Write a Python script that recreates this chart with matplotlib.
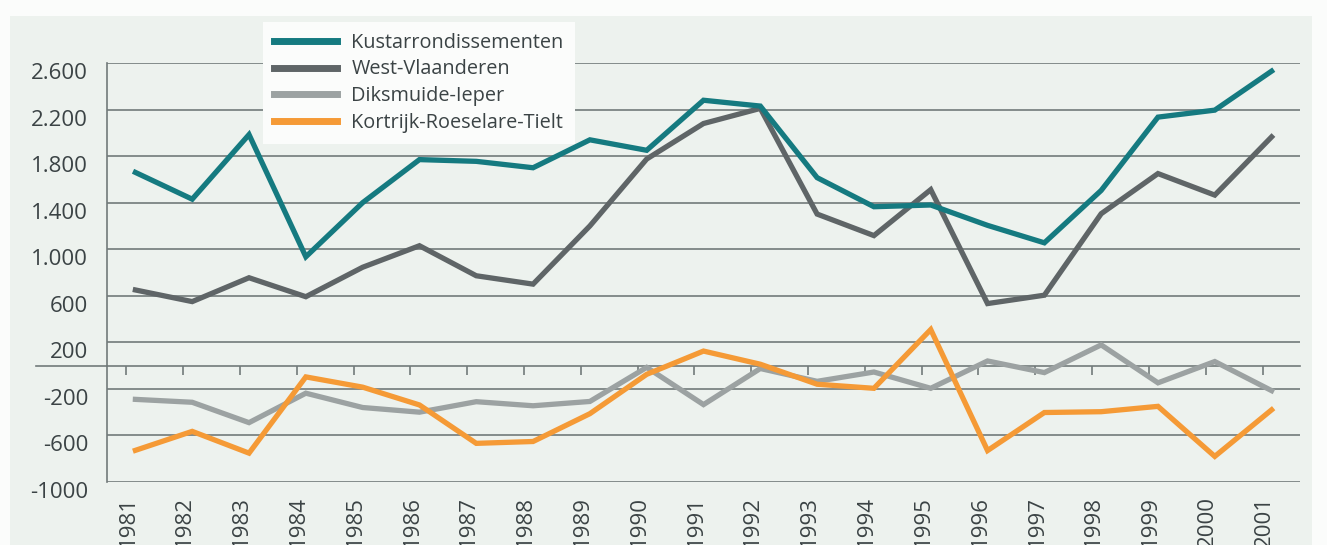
import matplotlib
matplotlib.use("Agg")
import matplotlib.pyplot as plt
from matplotlib.transforms import ScaledTranslation, blended_transform_factory
from matplotlib.lines import Line2D
from matplotlib.patches import Rectangle

years = list(range(1981, 2002))
year_labels = [str(y) for y in years]

kust = [1660, 1430, 1985, 935, 1400, 1770, 1755, 1700, 1940, 1850, 2280,
        2230, 1615, 1365, 1380, 1205, 1055, 1505, 2135, 2195, 2530]
westvl = [650, 550, 755, 592, 845, 1030, 772, 700, 1200, 1775, 2080,
          2210, 1302, 1117, 1512, 533, 605, 1305, 1650, 1465, 1965]
diks = [-290, -315, -490, -237, -360, -400, -310, -345, -308, -15, -335,
        -25, -135, -55, -195, 40, -60, 178, -148, 35, -215]
kort = [-728, -565, -752, -97, -185, -338, -668, -652, -413, -75, 125,
        12, -160, -195, 310, -730, -403, -396, -350, -780, -380]

series_names = ["Kustarrondissementen", "West-Vlaanderen", "Diksmuide-Ieper",
                "Kortrijk-Roeselare-Tielt"]
yticks = [2600, 2200, 1800, 1400, 1000, 600, 200, -200, -600, -1000]
ytick_labels = ["2.600", "2.200", "1.800", "1.400", "1.000", "600", "200",
                "-200", "-600", "-1000"]

C_TEAL = "#157a80"
C_DGREY = "#5f6567"
C_LGREY = "#9ca2a2"
C_ORANGE = "#f59a36"
C_GRID = "#727a7a"
C_TEXT = "#3b4345"
C_BG = "#edf2ee"

plt.rcParams['font.family'] = ['Open Sans', 'DejaVu Sans']

W, H = 1327, 545
fig = plt.figure(figsize=(W / 100, H / 100), dpi=100)
fig.patch.set_facecolor("#fbfcfb")
bg = fig.add_axes([0, 0, 1, 1], zorder=-10)
bg.set_axis_off()
bg.set_xlim(0, 1)
bg.set_ylim(0, 1)
bg.add_patch(Rectangle((10 / W, 0), 1302 / W, 1 - 16 / H, facecolor=C_BG,
                       edgecolor="none"))

ax_l, ax_r, ax_t, ax_b = 107, 1300, 63, 482
ax = fig.add_axes([ax_l / W, 1 - ax_b / H, (ax_r - ax_l) / W, (ax_b - ax_t) / H])
ax.set_facecolor("none")

lw = 3.8
ax.plot(years, kust, color=C_TEAL, lw=lw, zorder=5, label=series_names[0],
        solid_joinstyle="miter")
ax.plot(years, westvl, color=C_DGREY, lw=lw, zorder=4, label=series_names[1],
        solid_joinstyle="miter")
ax.plot(years, diks, color=C_LGREY, lw=lw, zorder=4, label=series_names[2],
        solid_joinstyle="miter")
ax.plot(years, kort, color=C_ORANGE, lw=lw, zorder=6, label=series_names[3],
        solid_joinstyle="miter")

ax.set_xlim(1980.5, 2001.5)
ax.set_ylim(-1000, 2600)

# y axis
ax.set_yticks(yticks)
ax.set_yticklabels(ytick_labels)
ax.tick_params(axis="y", length=0, pad=13.5, labelsize=16, labelcolor=C_TEXT)
ax.grid(axis="y", color=C_GRID, lw=1.2, zorder=1)
ax.set_axisbelow(True)
off = ScaledTranslation(0, -8 / 100, fig.dpi_scale_trans)
for lab in ax.get_yticklabels():
    lab.set_transform(lab.get_transform() + off)

for s in ["top", "right"]:
    ax.spines[s].set_visible(False)
ax.spines["left"].set_color(C_GRID)
ax.spines["left"].set_linewidth(1.2)
ax.spines["bottom"].set_position(("data", 0))
ax.spines["bottom"].set_color(C_GRID)
ax.spines["bottom"].set_linewidth(1.2)

# small ticks on zero line
ax.set_xticks([y - 0.16 for y in years])
ax.tick_params(axis="x", direction="out", length=6.5, width=1.2,
               color=C_GRID, labelbottom=False)

# zero line extending left of the plot area
tr = blended_transform_factory(ax.transAxes, ax.transData)
ax.add_line(Line2D([(36 - ax_l) / (ax_r - ax_l), 0], [0, 0], transform=tr,
                   color=C_GRID, lw=1.2, clip_on=False))

# year labels at bottom
sec = ax.secondary_xaxis("bottom")
sec.set_xticks([y - 0.13 for y in years])
sec.set_xticklabels(year_labels, rotation=90)
sec.tick_params(length=0, pad=10, labelsize=16, labelcolor=C_TEXT)
sec.spines["bottom"].set_visible(False)

leg = ax.legend(loc="upper left", bbox_to_anchor=(263 / W, 1 - 22 / H),
                bbox_transform=fig.transFigure, frameon=True, fancybox=False,
                fontsize=14.3, handlelength=3.2, handletextpad=0.7,
                labelspacing=0.33, borderpad=0.55, borderaxespad=0)
leg.get_frame().set_facecolor("#fbfcfb")
leg.get_frame().set_edgecolor("none")
leg.get_frame().set_alpha(1)
for t in leg.get_texts():
    t.set_color(C_TEXT)
for h in leg.get_lines():
    h.set_linewidth(5)
leg.set_zorder(10)

fig.savefig("out.png", dpi=100)
